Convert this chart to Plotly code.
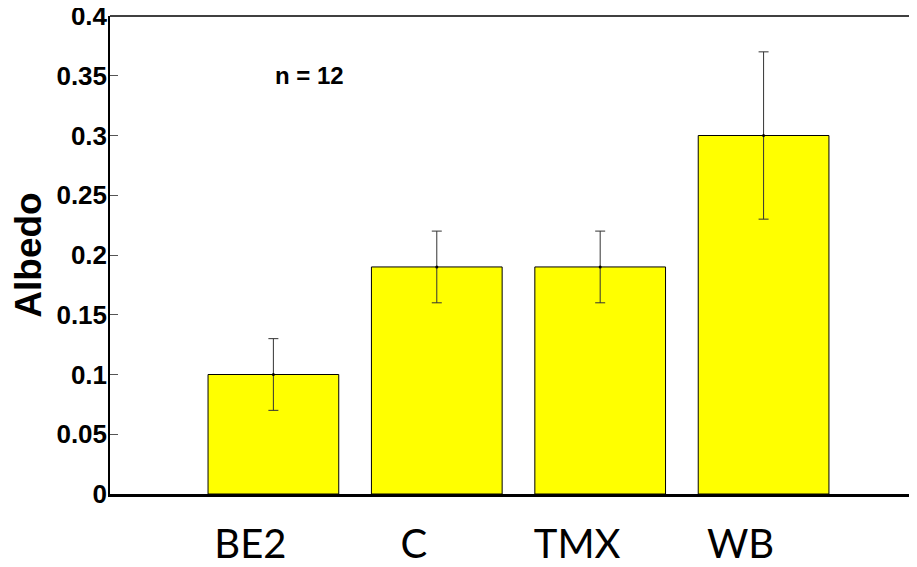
import plotly.graph_objects as go

categories = ["BE2", "C", "TMX", "WB"]
positions = [1, 2, 3, 4]
albedo = [0.10, 0.19, 0.19, 0.30]
errors = [0.03, 0.03, 0.03, 0.07]
y_ticks = [0, 0.05, 0.1, 0.15, 0.2, 0.25, 0.3, 0.35, 0.4]
y_tick_labels = ["0", "0.05", "0.1", "0.15", "0.2", "0.25", "0.3", "0.35", "0.4"]
note = "n = 12"

fig = go.Figure()
fig.add_trace(go.Bar(
    x=positions, y=albedo, width=0.8,
    marker=dict(color="#FFFF00", line=dict(color="black", width=1)),
    showlegend=False,
))
fig.add_trace(go.Scatter(
    x=positions, y=albedo, mode="markers",
    marker=dict(color="black", size=3),
    error_y=dict(type="data", array=errors, visible=True, color="#333333", thickness=1, width=5),
    showlegend=False,
))

fig.add_annotation(x=1, y=0.35, text=note, showarrow=False, xanchor="left", yanchor="middle",
                   font=dict(family="Liberation Sans, Arial", size=24, color="black", weight="bold"))

fig.add_shape(type="line", xref="paper", yref="paper", x0=0, x1=1, y0=1, y1=1,
              line=dict(color="black", width=1.5))

fig.update_layout(
    width=901, height=551,
    margin=dict(l=102, r=0, t=8, b=65),
    plot_bgcolor="white", paper_bgcolor="white",
    xaxis=dict(
        range=[0, 4.89], tickmode="array", tickvals=positions, ticktext=categories,
        showline=True, linecolor="black", linewidth=3, ticks="", showgrid=False, zeroline=False,
        tickfont=dict(family="Lato, Open Sans", size=40, color="black"),
        ticklabelshift=-23, ticklabelstandoff=13, automargin=False,
        ticklabeloverflow="allow",
    ),
    yaxis=dict(
        range=[0, 0.4], tickmode="array", tickvals=y_ticks, ticktext=y_tick_labels,
        showline=True, linecolor="black", linewidth=1.5, ticks="inside", ticklen=8,
        tickcolor="#555555", showgrid=False, zeroline=False, automargin=False,
        tickfont=dict(family="Liberation Sans, Arial", size=26, color="black", weight="bold"),
        ticklabelstandoff=-4, ticklabeloverflow="allow",
        title=dict(text="Albedo", font=dict(family="Liberation Sans, Arial", size=37, color="black", weight="bold"),
                   standoff=8),
    ),
)

fig.write_html("out.html")
